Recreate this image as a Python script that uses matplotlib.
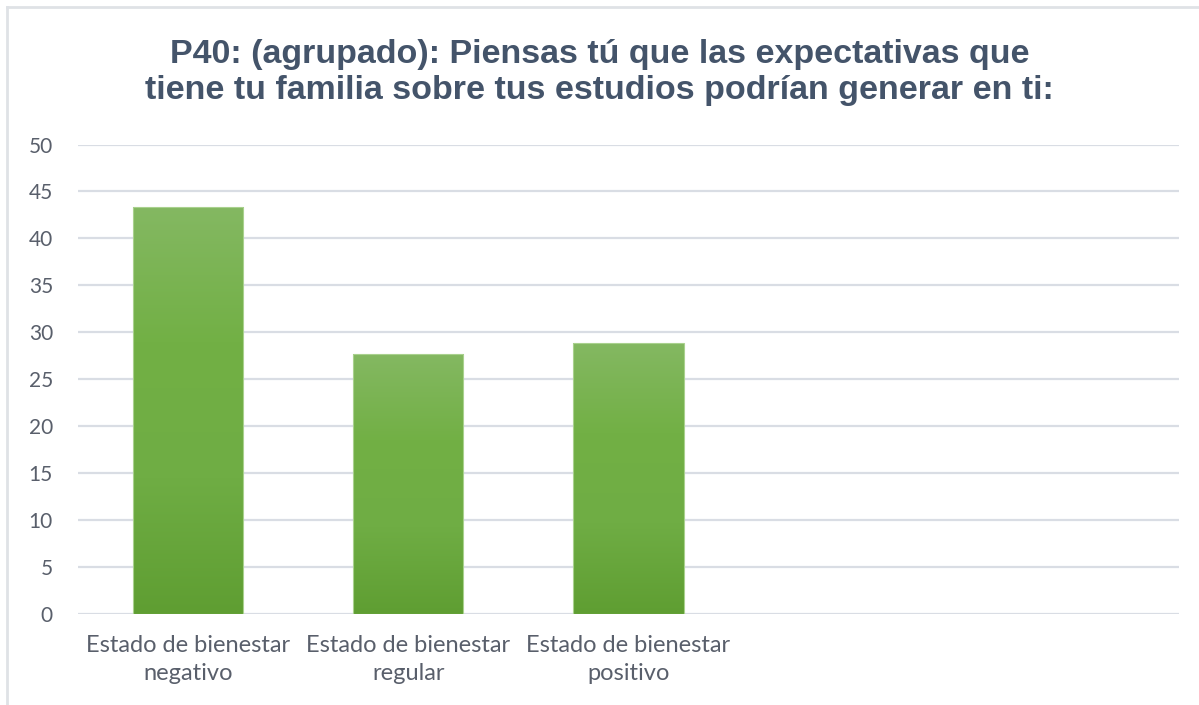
import numpy as np
import matplotlib.pyplot as plt
from matplotlib.colors import LinearSegmentedColormap
from matplotlib.lines import Line2D

title = "P40: (agrupado): Piensas tú que las expectativas que\ntiene tu familia sobre tus estudios podrían generar en ti:"
categories = ["Estado de bienestar\nnegativo", "Estado de bienestar\nregular",
              "Estado de bienestar\npositivo", "", ""]
values = [43.4, 27.7, 28.9]
yticks = [0, 5, 10, 15, 20, 25, 30, 35, 40, 45, 50]

text_color = "#595f6b"
grid_color = "#d9dde4"
green = LinearSegmentedColormap.from_list(
    "green", ["#5f9e32", "#6fad44", "#72b045", "#84b862"])

fig = plt.figure(figsize=(11.99, 7.05), dpi=100)
ax = fig.add_axes([0.065, 0.129, 0.9183, 0.666])

x = np.arange(len(categories))
bars = ax.bar(x[:len(values)], values, width=0.5, color="none",
              edgecolor="#a9d18e", linewidth=0.8, zorder=3)

grad = np.linspace(0, 1, 256).reshape(-1, 1)
for bar in bars:
    x0, y0 = bar.get_x(), bar.get_y()
    w, h = bar.get_width(), bar.get_height()
    im = ax.imshow(grad, cmap=green, origin="lower", aspect="auto",
                   extent=[x0, x0 + w, y0, y0 + h], zorder=2)
    im.set_clip_path(bar)

ax.set_xlim(-0.5, len(categories) - 0.5)
ax.set_ylim(0, 50)
ax.set_yticks(yticks)
ax.set_xticks(x)
ax.set_xticklabels(categories)
ax.yaxis.grid(True, color=grid_color, linewidth=1.6, zorder=0)
ax.set_axisbelow(True)
for side in ["top", "right", "left", "bottom"]:
    ax.spines[side].set_visible(False)
ax.tick_params(axis="both", length=0, colors=text_color)
ax.tick_params(axis="y", pad=18, labelsize=15)
ax.tick_params(axis="x", pad=15, labelsize=17)
for lbl in ax.get_xticklabels() + ax.get_yticklabels():
    lbl.set_fontfamily("Lato")
for lbl in ax.get_xticklabels():
    lbl.set_linespacing(1.4)

fig.text(0.5, 0.897, title, ha="center", va="center", fontsize=24.5,
         fontweight="bold", color="#44546a", family="Liberation Sans",
         linespacing=1.18)

# outer chart frame (top and left edges visible)
fig.add_artist(Line2D([0.006, 1.0], [0.99, 0.99], color="#dfe2e6",
                      linewidth=2, transform=fig.transFigure))
fig.add_artist(Line2D([0.006, 0.006], [0.0, 0.99], color="#dfe2e6",
                      linewidth=2, transform=fig.transFigure))

fig.savefig("out.png", dpi=100)
